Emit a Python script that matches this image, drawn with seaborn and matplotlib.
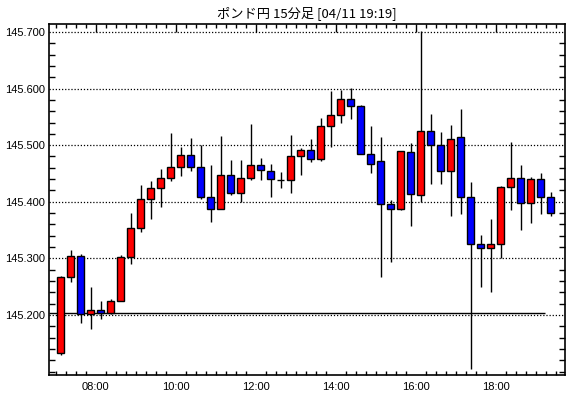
import numpy as np
import pandas as pd
import matplotlib
matplotlib.use("Agg")
import matplotlib.pyplot as plt
import seaborn as sns
from matplotlib.ticker import MultipleLocator, FixedLocator, FuncFormatter

# 15-minute candles, 07:00 .. 19:15
times = [f"{7 + i // 4:02d}:{(i % 4) * 15:02d}" for i in range(50)]
opens = [145.132, 145.267, 145.304, 145.201, 145.208, 145.204, 145.224, 145.302, 145.353, 145.405,
         145.424, 145.442, 145.461, 145.482, 145.461, 145.409, 145.388, 145.447, 145.416, 145.442,
         145.465, 145.454, 145.439, 145.438, 145.481, 145.491, 145.475, 145.534, 145.553, 145.582,
         145.569, 145.485, 145.472, 145.396, 145.387, 145.488, 145.412, 145.525, 145.500, 145.454,
         145.515, 145.409, 145.326, 145.318, 145.326, 145.426, 145.442, 145.398, 145.440, 145.408]
closes = [145.267, 145.304, 145.201, 145.208, 145.204, 145.225, 145.302, 145.353, 145.405, 145.424,
          145.442, 145.461, 145.482, 145.461, 145.409, 145.388, 145.447, 145.416, 145.442, 145.465,
          145.456, 145.440, 145.439, 145.481, 145.491, 145.475, 145.534, 145.553, 145.582, 145.569,
          145.485, 145.467, 145.396, 145.387, 145.490, 145.413, 145.525, 145.500, 145.454, 145.511,
          145.409, 145.326, 145.318, 145.326, 145.426, 145.442, 145.398, 145.440, 145.408, 145.380]
highs = [145.269, 145.315, 145.308, 145.250, 145.225, 145.228, 145.306, 145.381, 145.429, 145.437,
         145.458, 145.522, 145.497, 145.513, 145.500, 145.465, 145.517, 145.474, 145.474, 145.538,
         145.478, 145.467, 145.452, 145.518, 145.495, 145.510, 145.548, 145.596, 145.598, 145.601,
         145.571, 145.534, 145.515, 145.403, 145.490, 145.504, 145.702, 145.555, 145.523, 145.536,
         145.563, 145.435, 145.342, 145.370, 145.428, 145.506, 145.465, 145.444, 145.450, 145.418]
lows = [145.129, 145.259, 145.186, 145.176, 145.193, 145.201, 145.224, 145.290, 145.346, 145.370,
        145.390, 145.436, 145.446, 145.455, 145.405, 145.365, 145.388, 145.412, 145.400, 145.439,
        145.439, 145.408, 145.425, 145.416, 145.448, 145.471, 145.472, 145.497, 145.540, 145.546,
        145.485, 145.451, 145.267, 145.294, 145.385, 145.358, 145.400, 145.432, 145.432, 145.374,
        145.379, 145.105, 145.249, 145.240, 145.300, 145.386, 145.351, 145.362, 145.379, 145.374]
price_ticks = [145.2, 145.3, 145.4, 145.5, 145.6, 145.7]
ref_line = 145.203

df = pd.DataFrame({"time": times, "open": opens, "close": closes, "high": highs, "low": lows})
hm = df.time.str.split(":", expand=True).astype(int)
df["x"] = hm[0] + hm[1] / 60 + 0.125
df["color"] = np.where(df.close >= df.open, "#ff0000", "#0000ff")

sns.set_style("white")
plt.rcParams["font.family"] = ["Liberation Sans", "DejaVu Sans"]
plt.rcParams["text.color"] = "black"
plt.rcParams["xtick.color"] = "black"
plt.rcParams["ytick.color"] = "black"

fig = plt.figure(figsize=(5.7, 3.98), dpi=100)
ax = fig.add_axes([0.0865, 0.0578, 0.9053, 0.8819])

ax.vlines(df.x, df.low, df.high, color="black", linewidth=1, zorder=2)
ax.bar(df.x, df.close - df.open, bottom=df.open, width=0.175, color=df.color,
       edgecolor="black", linewidth=1, zorder=3)

ax.hlines(ref_line, 6.84, 19.24, color="black", linewidth=1, zorder=1)

ax.set_xlim(6.842, 19.74)
ax.set_ylim(145.094, 145.714)

ax.yaxis.set_major_locator(FixedLocator(price_ticks))
ax.yaxis.set_minor_locator(MultipleLocator(0.02))
ax.yaxis.set_major_formatter(FuncFormatter(lambda v, p: f"{v:.3f}"))
ax.xaxis.set_major_locator(MultipleLocator(2))
ax.xaxis.set_minor_locator(MultipleLocator(0.25))
ax.xaxis.set_major_formatter(FuncFormatter(lambda v, p: f"{int(round(v)):02d}:00"))

ax.grid(axis="y", which="major", color="black", linestyle=(0, (1, 1.5)), linewidth=0.9)
ax.grid(axis="x", visible=False)

ax.tick_params(axis="y", which="major", direction="out", length=2, width=1, labelsize=8, pad=1,
               colors="black")
ax.tick_params(axis="y", which="minor", direction="in", length=4, width=1, right=True, left=True,
               colors="black")
ax.tick_params(axis="x", which="major", direction="in", length=6, width=1, top=True, labelsize=8, pad=5,
               colors="black")
ax.tick_params(axis="x", which="minor", direction="in", length=3, width=1, top=True, bottom=True,
               colors="black")

for s in ax.spines.values():
    s.set_color("black")
    s.set_linewidth(1.2)

fig.text(0.539, 0.968, "ポンド円 15分足 [04/11 19:19]", ha="center", va="center", color="black",
         fontsize=9.5, family=["Noto Sans CJK JP", "DejaVu Sans"])

fig.savefig("out.png", dpi=100)
